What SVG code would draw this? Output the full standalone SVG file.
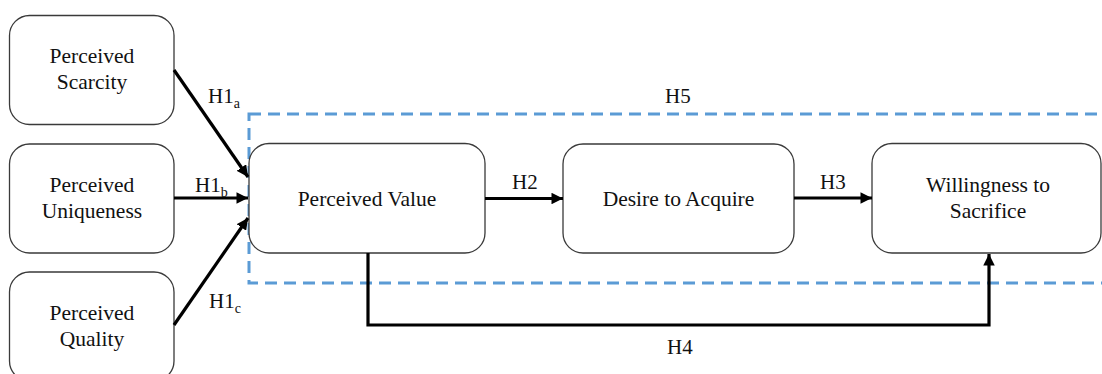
<svg xmlns="http://www.w3.org/2000/svg" width="1102" height="374" viewBox="0 0 1102 374">
  <style>
    .box { fill: #ffffff; stroke: #3a3a3a; stroke-width: 1.3; }
    .lbl { font-family: "Liberation Serif", "Times New Roman", serif; font-size: 21.5px; fill: #111111; text-anchor: middle; }
    .hyp { font-family: "Liberation Serif", "Times New Roman", serif; font-size: 21px; fill: #111111; }
    .sub { font-size: 14px; }
    .arrow { fill: none; stroke: #000000; stroke-width: 3.2; }
    .group-frame { fill: none; stroke: #5b9bd5; stroke-width: 3; stroke-dasharray: 12 7; }
  </style>
  <defs>
    <marker id="head" viewBox="0 0 10 10" refX="10" refY="5" markerWidth="3.6" markerHeight="3.6" orient="auto" markerUnits="strokeWidth">
      <path d="M0,0 L10,5 L0,10 z" fill="#000000"/>
    </marker>
  </defs>

  <rect width="1102" height="374" fill="#ffffff"/>

  <!-- mediation frame (H5) -->
  <rect class="group-frame" x="249" y="114" width="870" height="169"/>

  <g id="perceived-scarcity">
    <rect class="box" x="9.5" y="15.5" width="164.5" height="109" rx="20"/>
    <text class="lbl" x="92" y="63">Perceived</text>
    <text class="lbl" x="92" y="89">Scarcity</text>
  </g>

  <g id="perceived-uniqueness">
    <rect class="box" x="9.5" y="144" width="164.5" height="109" rx="20"/>
    <text class="lbl" x="92" y="192">Perceived</text>
    <text class="lbl" x="92" y="218">Uniqueness</text>
  </g>

  <g id="perceived-quality">
    <rect class="box" x="9.5" y="272" width="164.5" height="109" rx="20"/>
    <text class="lbl" x="92" y="320">Perceived</text>
    <text class="lbl" x="92" y="346">Quality</text>
  </g>

  <g id="perceived-value">
    <rect class="box" x="249" y="143.5" width="236" height="109.5" rx="20"/>
    <text class="lbl" x="367" y="206">Perceived Value</text>
  </g>

  <g id="desire-to-acquire">
    <rect class="box" x="563" y="144" width="231" height="109" rx="20"/>
    <text class="lbl" x="678.5" y="206">Desire to Acquire</text>
  </g>

  <g id="willingness-to-sacrifice">
    <rect class="box" x="872" y="143.5" width="229" height="109.5" rx="20"/>
    <text class="lbl" x="988" y="192">Willingness to</text>
    <text class="lbl" x="988" y="218">Sacrifice</text>
  </g>

  <g id="connectors">
    <line class="arrow" x1="174" y1="70" x2="248" y2="177" marker-end="url(#head)"/>
    <line class="arrow" x1="174" y1="198" x2="248" y2="198" marker-end="url(#head)"/>
    <line class="arrow" x1="174" y1="325" x2="248" y2="218" marker-end="url(#head)"/>
    <line class="arrow" x1="485" y1="198.5" x2="563" y2="198.5" marker-end="url(#head)"/>
    <line class="arrow" x1="794" y1="198" x2="872" y2="198" marker-end="url(#head)"/>
    <polyline class="arrow" points="368,253 368,325 989,325 989,254" marker-end="url(#head)"/>
  </g>

  <g id="hypothesis-labels">
    <text class="hyp" x="208" y="103">H1<tspan class="sub" dy="5">a</tspan></text>
    <text class="hyp" x="195" y="192">H1<tspan class="sub" dy="5">b</tspan></text>
    <text class="hyp" x="209" y="308">H1<tspan class="sub" dy="5">c</tspan></text>
    <text class="hyp" x="512" y="189">H2</text>
    <text class="hyp" x="820" y="189">H3</text>
    <text class="hyp" x="667" y="354">H4</text>
    <text class="hyp" x="665" y="103">H5</text>
  </g>
</svg>
